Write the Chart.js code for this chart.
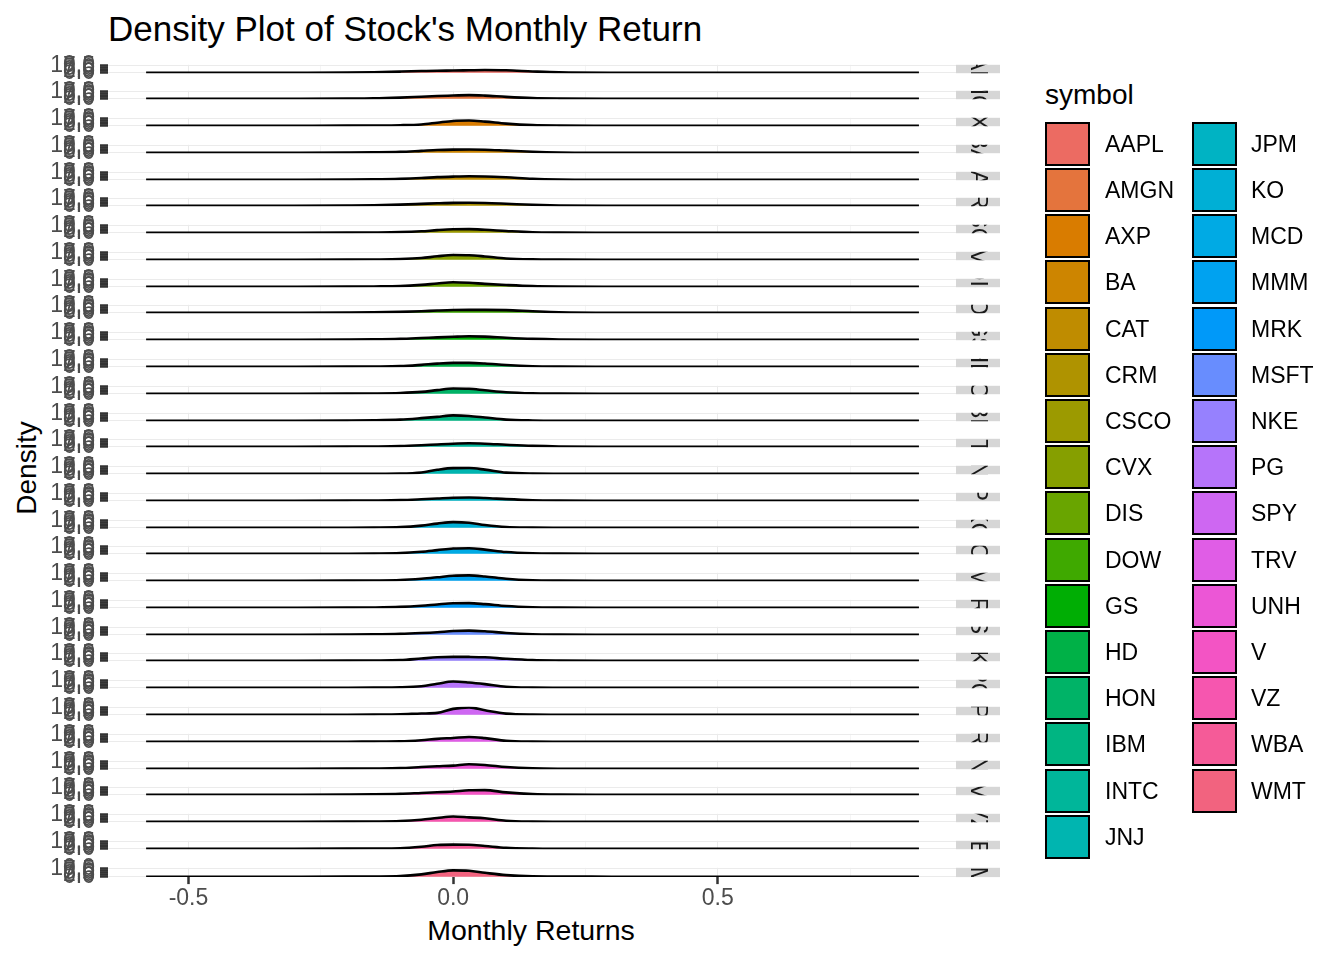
<!DOCTYPE html>
<html>
<head>
<meta charset="utf-8">
<title>Density Plot of Stock's Monthly Return</title>
<script src="https://cdn.jsdelivr.net/npm/chart.js@4.4.1/dist/chart.umd.min.js"></script>
<style>
  body { margin: 0; background: #fff; font-family: "Liberation Sans", Arial, Helvetica, sans-serif; }
  #page { position: relative; width: 1344px; height: 960px; overflow: hidden; background: #fff; }
  #page canvas { position: absolute; left: 0; }
  .txt { position: absolute; white-space: nowrap; color: #000; line-height: 1; }
  #title { left: 108px; top: 11px; font-size: 35px; }
  #ytitle { left: 27px; top: 468px; font-size: 28px; transform: translate(-50%, -50%) rotate(-90deg); }
  #xtitle { left: 531px; top: 930px; font-size: 28.5px; transform: translate(-50%, -50%); }
  #legtitle { left: 1045px; top: 81px; font-size: 28px; }
  .key { position: absolute; width: 41px; height: 40px; border: 2px solid #000; }
  .keylab { position: absolute; font-size: 23px; line-height: 1; transform: translateY(-50%); }
</style>
</head>
<body>
<div id="page">
  <div id="title" class="txt">Density Plot of Stock's Monthly Return</div>
  <div id="ytitle" class="txt">Density</div>
  <div id="xtitle" class="txt">Monthly Returns</div>
  <div id="legtitle" class="txt">symbol</div>
</div>
<script>
// facets, top to bottom
const symbols = ['AAPL', 'AMGN', 'AXP', 'BA', 'CAT', 'CRM', 'CSCO', 'CVX', 'DIS', 'DOW',
  'GS', 'HD', 'HON', 'IBM', 'INTC', 'JNJ', 'JPM', 'KO', 'MCD', 'MMM',
  'MRK', 'MSFT', 'NKE', 'PG', 'SPY', 'TRV', 'UNH', 'V', 'VZ', 'WBA', 'WMT'];

const returnGrid = [-0.58, -0.3, -0.2, -0.15, -0.1, -0.06, -0.03, 0, 0.03, 0.06, 0.1, 0.15, 0.2, 0.3, 0.88];

const densAAPL = [0, 0.1, 0.3, 0.7, 1.6, 2.3, 2.8, 3.0, 3.3, 3.6, 3.3, 1.8, 0.6, 0.1, 0];
const densAMGN = [0, 0, 0.2, 0.55, 1.6, 2.8, 3.7, 4.3, 4.9, 4.2, 2.5, 0.9, 0.3, 0, 0];
const densAXP = [0, 0.1, 0.2, 0.35, 0.75, 1.8, 4.1, 6.4, 6.9, 5.5, 2.9, 0.9, 0.3, 0.1, 0];
const densBA = [0, 0.1, 0.3, 0.55, 1.2, 2.6, 3.7, 4.2, 4.3, 4.1, 2.9, 1.4, 0.5, 0.1, 0];
const densCAT = [0, 0.1, 0.3, 0.55, 1.2, 2.3, 3.5, 4.2, 4.6, 4.4, 3.3, 1.4, 0.5, 0.1, 0];
const densCRM = [0, 0.1, 0.4, 0.7, 1.5, 2.5, 3.3, 3.9, 4.0, 3.7, 2.7, 1.3, 0.5, 0.1, 0];
const densCSCO = [0, 0, 0.2, 0.4, 0.9, 2.0, 3.5, 4.6, 4.8, 4.0, 2.4, 0.7, 0.2, 0, 0];
const densCVX = [0, 0, 0.2, 0.4, 0.9, 2.3, 4.6, 6.3, 6.0, 4.4, 1.8, 0.55, 0.2, 0, 0];
const densDIS = [0, 0, 0.2, 0.45, 0.9, 2.5, 4.4, 6.0, 5.3, 3.9, 2.4, 0.9, 0.3, 0, 0];
const densDOW = [0, 0.1, 0.3, 0.55, 1.2, 2.1, 3.0, 3.7, 3.9, 3.9, 3.5, 2.0, 0.7, 0.1, 0];
const densGS = [0, 0.1, 0.3, 0.55, 1.2, 2.3, 3.2, 4.0, 4.6, 4.2, 2.7, 1.2, 0.4, 0.1, 0];
const densHD = [0, 0, 0.2, 0.4, 0.9, 2.6, 4.2, 5.1, 5.1, 4.3, 2.3, 0.7, 0.2, 0, 0];
const densHON = [0, 0, 0.2, 0.45, 1.1, 2.5, 4.8, 6.9, 6.6, 4.6, 2.0, 0.55, 0.2, 0, 0];
const densIBM = [0, 0, 0.3, 0.65, 1.6, 3.5, 5.2, 7.1, 6.4, 4.4, 1.6, 0.45, 0.1, 0, 0];
const densINTC = [0, 0.1, 0.3, 0.45, 0.9, 2.0, 3.1, 4.1, 4.6, 4.1, 2.7, 1.2, 0.4, 0.1, 0];
const densJNJ = [0, 0, 0, 0.1, 0.35, 1.8, 5.3, 7.5, 7.6, 5.5, 1.6, 0.3, 0.1, 0, 0];
const densJPM = [0, 0.1, 0.3, 0.45, 0.9, 2.0, 3.0, 4.0, 4.3, 3.7, 2.2, 0.8, 0.3, 0.1, 0];
const densKO = [0, 0, 0.1, 0.3, 0.9, 2.9, 5.5, 7.5, 6.7, 3.7, 1.0, 0.3, 0.1, 0, 0];
const densMCD = [0, 0, 0.1, 0.3, 0.9, 2.7, 4.8, 6.9, 7.3, 5.5, 2.3, 0.65, 0.2, 0, 0];
const densMMM = [0, 0, 0.2, 0.4, 1.0, 2.7, 4.6, 6.7, 7.1, 5.7, 2.7, 0.7, 0.2, 0, 0];
const densMRK = [0, 0, 0.2, 0.45, 1.2, 2.7, 4.4, 5.9, 6.1, 4.8, 2.3, 0.7, 0.2, 0, 0];
const densMSFT = [0, 0.1, 0.3, 0.55, 1.2, 2.3, 3.4, 4.9, 5.5, 4.6, 2.4, 0.7, 0.2, 0, 0];
const densNKE = [0, 0, 0.2, 0.4, 0.9, 3.0, 4.6, 5.2, 5.1, 4.6, 2.7, 0.9, 0.3, 0, 0];
const densPG = [0, 0, 0.1, 0.2, 0.55, 2.0, 5.3, 8.2, 6.9, 4.8, 1.4, 0.3, 0.1, 0, 0];
const densSPY = [0, 0, 0.1, 0.3, 0.7, 1.7, 2.5, 7.8, 9.8, 6.0, 1.6, 0.2, 0, 0, 0];
const densTRV = [0, 0, 0.1, 0.3, 0.55, 2.0, 3.9, 5.0, 6.3, 4.8, 1.4, 0.3, 0.1, 0, 0];
const densUNH = [0, 0, 0.2, 0.4, 0.9, 2.3, 3.3, 4.2, 5.9, 5.0, 2.3, 0.55, 0.1, 0, 0];
const densV = [0, 0.1, 0.3, 0.55, 1.2, 2.4, 3.3, 4.4, 5.9, 6.2, 3.2, 0.9, 0.2, 0, 0];
const densVZ = [0, 0, 0.2, 0.4, 1.0, 2.7, 5.0, 6.9, 5.8, 4.6, 1.4, 0.3, 0.1, 0, 0];
const densWBA = [0, 0.1, 0.3, 0.45, 0.8, 2.7, 5.0, 5.5, 5.3, 3.7, 1.4, 0.4, 0.1, 0, 0];
const densWMT = [0, 0, 0.1, 0.2, 0.65, 2.7, 5.5, 7.5, 7.0, 4.6, 1.8, 0.3, 0.1, 0, 0];

const densities = [densAAPL, densAMGN, densAXP, densBA, densCAT, densCRM, densCSCO, densCVX,
  densDIS, densDOW, densGS, densHD, densHON, densIBM, densINTC, densJNJ, densJPM, densKO,
  densMCD, densMMM, densMRK, densMSFT, densNKE, densPG, densSPY, densTRV, densUNH, densV,
  densVZ, densWBA, densWMT];

// axis breaks
const xBreaks = [-0.5, -0.25, 0, 0.25, 0.5, 0.75];
const xMajor = [-0.5, 0, 0.5];
const yBreaks = [0, 2.5, 5, 7.5, 10];

// ggplot-like hue palette (hcl), a touch darker to match the picture
function hueColor(i, n) {
  const h = (15 + 360 * i / n) * Math.PI / 180;
  const L = 61, C = 100;
  const Xn = 95.047, Yn = 100, Zn = 108.883;
  const un = 4 * Xn / (Xn + 15 * Yn + 3 * Zn);
  const vn = 9 * Yn / (Xn + 15 * Yn + 3 * Zn);
  const Y = Yn * Math.pow((L + 16) / 116, 3);
  const up = C * Math.cos(h) / (13 * L) + un;
  const vp = C * Math.sin(h) / (13 * L) + vn;
  const X = Y * 9 * up / (4 * vp);
  const Z = Y * (12 - 3 * up - 20 * vp) / (4 * vp);
  const x = X / 100, y = Y / 100, z = Z / 100;
  const lin = [
    3.2404542 * x - 1.5371385 * y - 0.4985314 * z,
    -0.9692660 * x + 1.8760108 * y + 0.0415560 * z,
    0.0556434 * x - 0.2040259 * y + 1.0572252 * z
  ];
  const hex = lin.map(c => {
    let g = c <= 0.0031308 ? 12.92 * c : 1.055 * Math.pow(c, 1 / 2.4) - 0.055;
    g = Math.round(Math.min(1, Math.max(0, g)) * 255);
    return g.toString(16).padStart(2, '0');
  });
  return '#' + hex.join('');
}

const colors = symbols.map((s, i) => hueColor(i, symbols.length));

// facet strip on the right, text turned and clipped like ggplot does
const stripPlugin = {
  id: 'strip',
  afterDraw(chart, args, opts) {
    const a = chart.chartArea;
    const ctx = chart.ctx;
    const w = 44;
    ctx.save();
    ctx.fillStyle = '#D6D6D6';
    ctx.fillRect(a.right, a.top, w, a.bottom - a.top);
    ctx.beginPath();
    ctx.rect(a.right, a.top, w, a.bottom - a.top);
    ctx.clip();
    ctx.translate(a.right + w / 2, (a.top + a.bottom) / 2);
    ctx.rotate(Math.PI / 2);
    ctx.fillStyle = '#1A1A1A';
    ctx.font = '23px "Liberation Sans", Arial, sans-serif';
    ctx.textAlign = 'center';
    ctx.textBaseline = 'middle';
    ctx.fillText(opts.label, 0, 1);
    ctx.restore();
  }
};

const page = document.getElementById('page');
const TOP0 = 62, STEP = 26.77, PANEL_H = 12, CANVAS_W = 1010;

symbols.forEach((sym, i) => {
  const last = i === symbols.length - 1;
  const panelTop = TOP0 + STEP * i;
  const canvasTop = Math.floor(panelTop) - 16;
  const padTop = panelTop - canvasTop;
  const xAxisH = last ? 46 : 0;
  const height = last ? Math.ceil(padTop + PANEL_H + xAxisH) : 46;
  const padBottom = height - padTop - PANEL_H - xAxisH;

  const canvas = document.createElement('canvas');
  canvas.width = CANVAS_W;
  canvas.height = height;
  canvas.style.top = canvasTop + 'px';
  page.appendChild(canvas);

  const points = returnGrid.map((x, k) => ({ x, y: densities[i][k] }));

  new Chart(canvas.getContext('2d'), {
    type: 'line',
    data: {
      datasets: [{
        label: sym,
        data: points,
        fill: 'origin',
        backgroundColor: colors[i],
        borderColor: '#000000',
        borderWidth: 2.6,
        pointRadius: 0,
        cubicInterpolationMode: 'monotone'
      }]
    },
    options: {
      responsive: false,
      animation: false,
      events: [],
      layout: { padding: { left: 0, right: CANVAS_W - 956, top: padTop, bottom: padBottom } },
      plugins: {
        legend: { display: false },
        tooltip: { enabled: false },
        strip: { label: sym }
      },
      scales: {
        x: {
          type: 'linear',
          min: -0.652,
          max: 0.95,
          afterBuildTicks: s => { s.ticks = xBreaks.map(value => ({ value })); },
          afterFit: s => { s.height = xAxisH; },
          border: { display: false },
          grid: {
            color: c => xMajor.includes(c.tick.value) ? '#EBEBEB' : '#F5F5F5',
            lineWidth: 1,
            drawTicks: last,
            tickLength: 7,
            tickWidth: 2.5,
            tickColor: c => xMajor.includes(c.tick.value) ? '#333333' : 'rgba(0,0,0,0)'
          },
          ticks: {
            display: last,
            autoSkip: false,
            maxRotation: 0,
            padding: 1,
            color: '#4D4D4D',
            font: { family: '"Liberation Sans", Arial, sans-serif', size: 23 },
            callback: value => xMajor.includes(value) ? value.toFixed(1) : ''
          }
        },
        y: {
          min: -0.5,
          max: 10.5,
          afterBuildTicks: s => { s.ticks = yBreaks.map(value => ({ value })); },
          afterFit: s => { s.width = 108; },
          border: { display: false },
          grid: {
            color: c => c.tick.value === 10 || c.tick.value === 0 ? '#EBEBEB' : 'rgba(0,0,0,0)',
            tickLength: 8,
            tickWidth: 2.5,
            tickColor: '#333333'
          },
          ticks: {
            autoSkip: false,
            padding: 5,
            color: '#4D4D4D',
            font: { family: '"Liberation Sans", Arial, sans-serif', size: 23 },
            callback: value => value.toFixed(1)
          }
        }
      }
    },
    plugins: [stripPlugin]
  });
});

// legend, two columns like the reference
const KEY_TOP = 121.7, KEY_STEP = 46.2, PER_COL = 16;
symbols.forEach((sym, i) => {
  const col = Math.floor(i / PER_COL);
  const row = i % PER_COL;
  const keyX = col === 0 ? 1045 : 1192;
  const labX = col === 0 ? 1105 : 1251;
  const top = KEY_TOP + row * KEY_STEP;
  const key = document.createElement('div');
  key.className = 'key';
  key.style.left = keyX + 'px';
  key.style.top = top + 'px';
  key.style.background = colors[i];
  page.appendChild(key);
  const lab = document.createElement('div');
  lab.className = 'keylab';
  lab.style.left = labX + 'px';
  lab.style.top = (top + 22) + 'px';
  lab.textContent = sym;
  page.appendChild(lab);
});
</script>
</body>
</html>
